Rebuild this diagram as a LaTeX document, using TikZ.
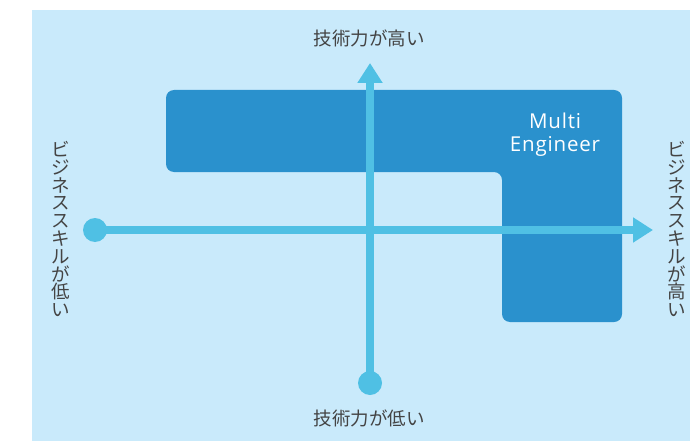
\documentclass[tikz,border=0pt]{standalone}
\usepackage{fontspec}
\setmainfont{Open Sans}
\newfontfamily\jpfont{Noto Sans CJK JP}
\usetikzlibrary{arrows.meta}
\definecolor{bgblue}{HTML}{C9EAFB}
\definecolor{boxblue}{HTML}{2A91CD}
\definecolor{axisblue}{HTML}{4FC0E4}
\definecolor{txtgray}{HTML}{444444}
\tikzset{
  axisline/.style={draw=axisblue, line width=7.5pt, -{Triangle[length=20pt,width=24pt]}},
  axisdot/.style={circle, fill=axisblue, inner sep=0pt, minimum size=24pt},
  jplabel/.style={text=txtgray, inner sep=0pt, font=\jpfont\fontsize{18.5}{18.5}\selectfont},
  vlabel/.style={text=txtgray, inner sep=0pt, align=center, font=\jpfont\fontsize{18.5}{17.8}\selectfont},
  enlabel/.style={text=white, inner sep=0pt, align=center, font=\addfontfeatures{LetterSpace=4}\fontsize{20.5}{23}\selectfont},
}
\begin{document}
\begin{tikzpicture}[x=1pt,y=-1pt]
\useasboundingbox (0,0) rectangle (690,441);
\fill[bgblue] (32,10) rectangle (690,441);
% L-shaped region
\fill[boxblue, rounded corners=8pt] (166,90) -- (622,90) -- (622,322) -- (502,322) -- (502,172) -- (166,172) -- cycle;
\node[enlabel] (me) at (555,135) {Multi\\Engineer};
% axes
\node[axisdot] (ldot) at (95,230) {};
\node[axisdot] (bdot) at (370,383) {};
\coordinate (rtip) at (653,230);
\coordinate (ttip) at (370,63);
\draw[axisline] (ldot.center) -- (rtip);
\draw[axisline] (bdot.center) -- (ttip);
% labels
\node[jplabel] (top) at (369,38) {技術力が高い};
\node[jplabel] (bot) at (369,418) {技術力が低い};
\node[vlabel] (left) at (61,229) {ビ\\ジ\\ネ\\ス\\ス\\キ\\ル\\が\\低\\い};
\node[vlabel] (right) at (677,229) {ビ\\ジ\\ネ\\ス\\ス\\キ\\ル\\が\\高\\い};
\end{tikzpicture}
\end{document}
